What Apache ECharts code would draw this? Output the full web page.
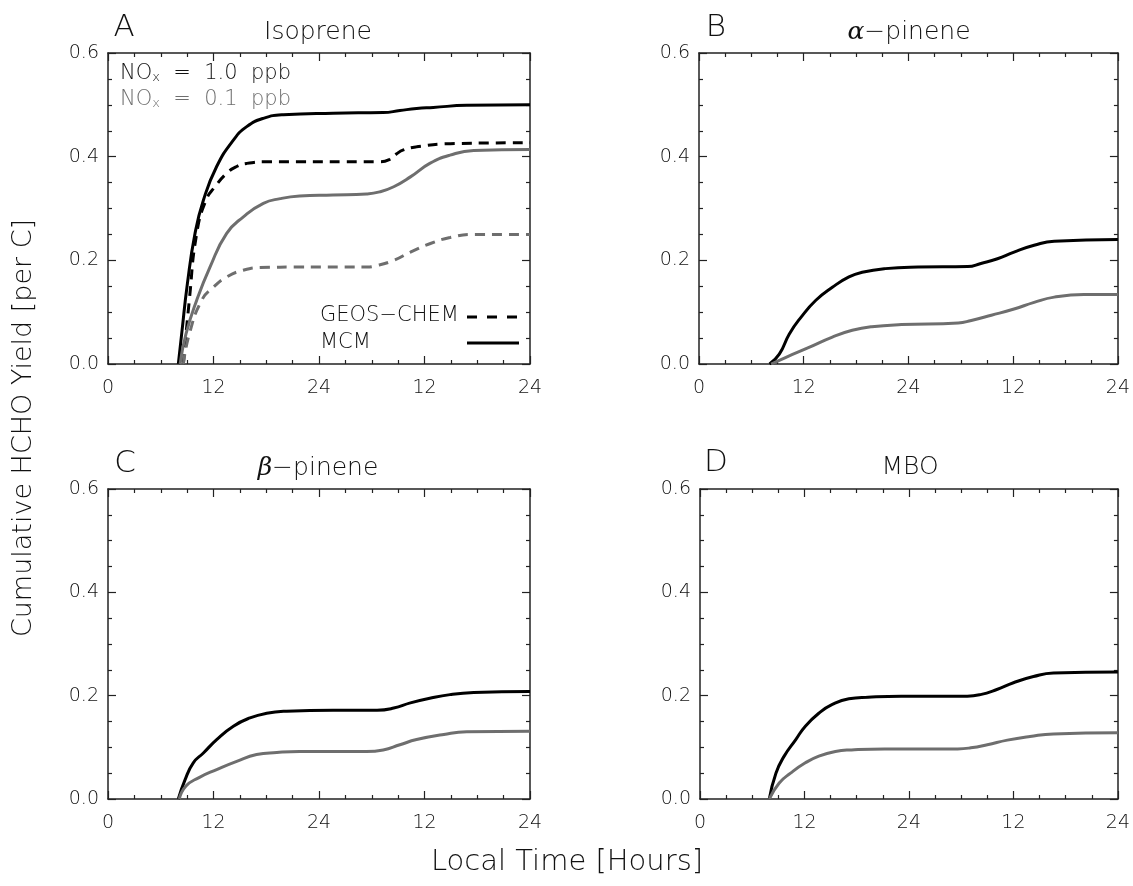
<!DOCTYPE html>
<html>
<head>
<meta charset="utf-8">
<script src="https://cdn.jsdelivr.net/npm/echarts@6/dist/echarts.min.js"></script>
<style>
  html, body { margin: 0; padding: 0; background: #fff; }
  #chart { width: 1133px; height: 886px; }
</style>
</head>
<body>
<div id="chart"></div>
<script>
// ---------- data ----------
const hourTicks = [0, 12, 24, 36, 48];
const xTickLabels = ['0', '12', '24', '12', '24'];
const panelLetters = ['A', 'B', 'C', 'D'];
const panelTitles = ['Isoprene', 'α−pinene', 'β−pinene', 'MBO'];

// Isoprene
const isoMcm10 = [[8.0,0],[8.38,0.058],[9.03,0.155],[9.9,0.252],[10.85,0.316],[12.36,0.381],[14.26,0.432],[15.78,0.458],[17.67,0.474],[19.95,0.481],[25.6,0.484],[31.3,0.485],[33.2,0.489],[35.1,0.493],[37.0,0.495],[40.8,0.499],[48,0.50]];
const isoGeos10 = [[8.57,0],[9.25,0.123],[10.09,0.252],[11.15,0.316],[12.17,0.342],[13.5,0.368],[14.64,0.381],[15.78,0.387],[18.05,0.390],[30.9,0.390],[32.1,0.395],[32.8,0.405],[33.6,0.413],[35.1,0.419],[38.9,0.425],[48,0.427]];
const isoMcm01 = [[8.2,0],[8.87,0.058],[10.09,0.123],[11.6,0.187],[13.5,0.252],[15.4,0.284],[17.67,0.310],[19.6,0.319],[21.8,0.324],[25.6,0.326],[29.4,0.328],[30.9,0.332],[32.5,0.342],[34.4,0.361],[36.6,0.387],[38.9,0.403],[41.6,0.412],[48,0.414]];
const isoGeos01 = [[8.57,0],[9.25,0.058],[10.66,0.123],[11.98,0.148],[13.5,0.168],[15.4,0.181],[17.3,0.186],[21.8,0.187],[29.4,0.187],[30.6,0.190],[32.5,0.200],[34.4,0.216],[36.6,0.232],[38.9,0.244],[41.6,0.250],[48,0.250]];
// alpha-pinene
const apinMcm10 = [[8.08,0],[9.2,0.019],[10.35,0.058],[11.68,0.090],[13.39,0.123],[15.28,0.148],[17.18,0.168],[18.7,0.177],[21.35,0.184],[25.1,0.187],[30.8,0.188],[32.3,0.194],[34.2,0.203],[36.1,0.216],[38.4,0.229],[40.7,0.237],[48,0.240]];
const apinMcm01 = [[8.27,0],[9.97,0.013],[12.6,0.032],[15.28,0.052],[17.56,0.065],[19.8,0.072],[23.2,0.076],[29.7,0.079],[31.2,0.084],[33.5,0.094],[36.1,0.106],[38.4,0.119],[40.7,0.129],[44.1,0.134],[48,0.134]];
// beta-pinene
const bpinMcm10 = [[8.0,0],[8.76,0.037],[9.7,0.070],[10.85,0.089],[12.36,0.115],[14.26,0.141],[16.15,0.157],[18.05,0.166],[20.3,0.170],[25.6,0.172],[30.6,0.172],[32.5,0.176],[34.4,0.186],[36.6,0.195],[38.9,0.202],[41.6,0.206],[48,0.208]];
const bpinMcm01 = [[8.1,0],[8.87,0.025],[10.3,0.041],[12.36,0.057],[14.64,0.073],[16.9,0.086],[19.2,0.090],[21.8,0.092],[29.4,0.092],[31.3,0.095],[33.2,0.105],[35.1,0.115],[38.2,0.125],[40.8,0.130],[48,0.131]];
// MBO
const mboMcm10 = [[7.96,0],[8.72,0.050],[9.67,0.083],[11.0,0.115],[12.1,0.141],[13.65,0.166],[15.2,0.183],[17.1,0.194],[19.3,0.197],[23.1,0.199],[30.7,0.199],[32.2,0.202],[34.1,0.212],[36.0,0.225],[38.3,0.237],[40.6,0.244],[48,0.246]];
const mboMcm01 = [[7.96,0],[9.1,0.031],[10.4,0.050],[12.1,0.070],[13.65,0.083],[15.55,0.092],[17.4,0.095],[21.2,0.097],[29.6,0.097],[31.1,0.099],[33.0,0.105],[35.3,0.114],[37.9,0.121],[40.6,0.126],[48,0.128]];

// ---------- style ----------
const FONT = '"DejaVu Sans", sans-serif';
const FW = 200;
const TXT = '#111';
const BLACK = '#000000';
const GRAY = '#6e6e6e';
const AXC = '#222';

const grids = [
  { left: 108, top: 53, width: 422, height: 311 },
  { left: 699, top: 53, width: 422, height: 311 },
  { left: 108, top: 489, width: 422, height: 310 },
  { left: 700, top: 489, width: 421, height: 310 }
];

const xAxes = [], yAxes = [];
grids.forEach((g, i) => {
  const common = {
    gridIndex: i,
    axisLine: { show: true, onZero: false, lineStyle: { color: AXC, width: 1.5 } },
    axisTick: { show: true, inside: true, length: 8, lineStyle: { color: AXC, width: 1.2 } },
    minorTick: { show: true, splitNumber: 4, length: 4, lineStyle: { color: AXC, width: 1.2 } },
    splitLine: { show: false },
    minorSplitLine: { show: false }
  };
  xAxes.push(Object.assign({}, common, {
    type: 'value', position: 'bottom', min: 0, max: 48, interval: 12,
    axisLabel: {
      show: true, margin: 15, fontSize: 19, fontFamily: FONT, fontWeight: FW, color: TXT,
      formatter: v => { const k = hourTicks.indexOf(v); return k >= 0 ? xTickLabels[k] : ''; }
    }
  }));
  xAxes.push(Object.assign({}, common, {
    type: 'value', position: 'top', min: 0, max: 48, interval: 12,
    axisLabel: { show: false }
  }));
  yAxes.push(Object.assign({}, common, {
    type: 'value', position: 'left', min: 0, max: 0.6, interval: 0.2,
    axisLabel: {
      show: true, margin: 9, fontSize: 19, fontFamily: FONT, fontWeight: FW, color: TXT,
      formatter: v => v.toFixed(1)
    }
  }));
  yAxes.push(Object.assign({}, common, {
    type: 'value', position: 'right', min: 0, max: 0.6, interval: 0.2,
    axisLabel: { show: false }
  }));
});

function line(name, data, panel, color, dashed) {
  return {
    name: name, type: 'line', data: data,
    xAxisIndex: panel * 2, yAxisIndex: panel * 2,
    showSymbol: false, symbol: 'none',
    smooth: 0.5,
    lineStyle: { color: color, width: 3, type: dashed ? [10, 7] : 'solid' },
    z: 3, silent: true
  };
}

const series = [
  line('MCM 1.0', isoMcm10, 0, BLACK, false),
  line('GEOS-CHEM 1.0', isoGeos10, 0, BLACK, true),
  line('MCM 0.1', isoMcm01, 0, GRAY, false),
  line('GEOS-CHEM 0.1', isoGeos01, 0, GRAY, true),
  line('MCM 1.0', apinMcm10, 1, BLACK, false),
  line('MCM 0.1', apinMcm01, 1, GRAY, false),
  line('MCM 1.0', bpinMcm10, 2, BLACK, false),
  line('MCM 0.1', bpinMcm01, 2, GRAY, false),
  line('MCM 1.0', mboMcm10, 3, BLACK, false),
  line('MCM 0.1', mboMcm01, 3, GRAY, false)
];

function txt(text, x, y, size, opts) {
  return Object.assign({
    type: 'text', x: x, y: y, z: 10,
    style: Object.assign({
      text: text, fontSize: size, fontFamily: FONT, fontWeight: FW, fill: TXT,
      align: 'center', verticalAlign: 'middle'
    }, (opts && opts.style) || {})
  }, (opts && opts.el) || {});
}

const letterPos = [[124, 28], [716, 28], [125, 464], [716, 463]];
const titlePos = [[318, 32], [909, 32], [318, 468], [910, 467]];

const graphic = [];
panelLetters.forEach((L, i) => graphic.push(txt(L, letterPos[i][0], letterPos[i][1], 31)));
panelTitles.forEach((t, i) => {
  const greek = t[0] === 'α' || t[0] === 'β';
  if (greek) {
    graphic.push(txt('{g|' + t[0] + '}{n|' + t.slice(1) + '}', titlePos[i][0], titlePos[i][1], 25, {
      style: {
        rich: {
          g: { fontSize: 25, fontFamily: '"DejaVu Serif", serif', fontStyle: 'italic', fontWeight: FW, fill: TXT },
          n: { fontSize: 25, fontFamily: FONT, fontWeight: FW, fill: TXT }
        }
      }
    }));
  } else {
    graphic.push(txt(t, titlePos[i][0], titlePos[i][1], 25));
  }
});

// NOx labels (panel A)
function noxLabel(val, y, color) {
  return txt('{a|NO}{s|x}{a|  =  ' + val + '  ppb}', 120, y, 21, {
    style: {
      align: 'left', fill: color,
      rich: {
        a: { fontSize: 21, fontFamily: FONT, fontWeight: FW, fill: color, lineHeight: 24, verticalAlign: 'bottom' },
        s: { fontSize: 13, fontFamily: FONT, fontWeight: FW, fill: color, lineHeight: 12, verticalAlign: 'bottom' }
      }
    }
  });
}
graphic.push(noxLabel('1.0', 72, TXT));
graphic.push(noxLabel('0.1', 98, GRAY));

// model legend (panel A)
graphic.push(txt('GEOS−CHEM', 320, 316, 21, { style: { align: 'left' } }));
graphic.push(txt('MCM', 320, 343, 21, { style: { align: 'left' } }));
graphic.push({ type: 'line', z: 10, shape: { x1: 467, y1: 317, x2: 519, y2: 317 },
  style: { stroke: BLACK, lineWidth: 3, lineDash: [10, 10] } });
graphic.push({ type: 'line', z: 10, shape: { x1: 467, y1: 343, x2: 519, y2: 343 },
  style: { stroke: BLACK, lineWidth: 3 } });

// shared axis names
graphic.push(txt('Cumulative HCHO Yield [per C]', 24, 428, 27, { el: { rotation: Math.PI / 2 } }));
graphic.push(txt('Local Time [Hours]', 567, 862, 29));

const chart = echarts.init(document.getElementById('chart'), null, { renderer: 'canvas' });
chart.setOption({
  backgroundColor: '#ffffff',
  animation: false,
  grid: grids,
  xAxis: xAxes,
  yAxis: yAxes,
  series: series,
  graphic: graphic
});
</script>
</body>
</html>
